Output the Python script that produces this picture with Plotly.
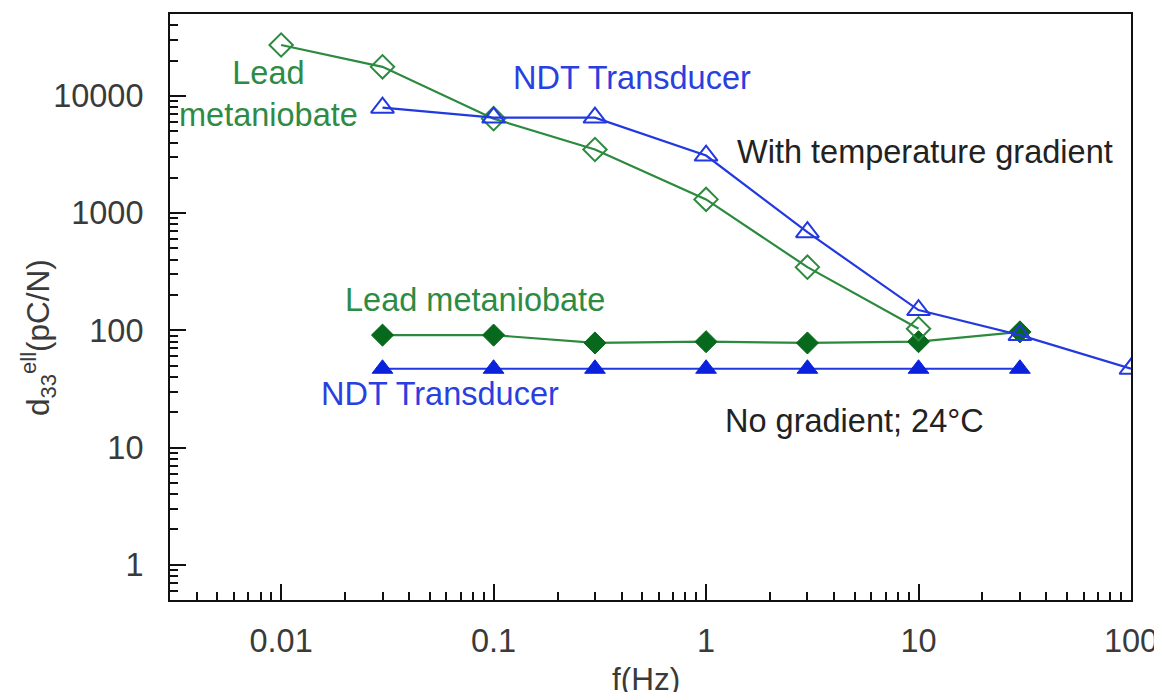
import plotly.graph_objects as go

# ---- data ----
freq_pm_grad = [0.01, 0.03, 0.1, 0.3, 1, 3, 10]
d33_pm_grad = [27200, 17700, 6400, 3490, 1310, 346, 103]

freq_ndt_grad = [0.03, 0.1, 0.3, 1, 3, 10, 30, 100]
d33_ndt_grad = [7940, 6530, 6530, 3100, 687, 149, 91, 47]

freq_nograd = [0.03, 0.1, 0.3, 1, 3, 10, 30]
d33_pm_nograd = [91, 91, 78, 80, 78, 80, 97]
d33_ndt_nograd = [47, 47, 47, 47, 47, 47, 47]

x_tickvals = [0.01, 0.1, 1, 10, 100]
x_ticktext = ["0.01", "0.1", "1", "10", "100"]
y_tickvals = [1, 10, 100, 1000, 10000]
y_ticktext = ["1", "10", "100", "1000", "10000"]

# ---- styling ----
FONT = "Liberation Sans, Arial, Helvetica, sans-serif"
FS = 32.5
GREEN = "#2b8a3e"
GREEN_TXT = "#2e8b44"
DKGREEN = "#06691c"
BLUE = "#2238e0"
BLUE_TXT = "#2a3fe0"
DKBLUE = "#0a22dd"

# the page body keeps its default 8px margin; size the figure so the page
# is 1162x700 and the plot area lands at screen 170..1132, 12..600
OFF = 8
W, H = 1162 - OFF, 700 - 2 * OFF
ML, MR, MT = 170 - OFF, 30, 12 - OFF
MB = H - (600 - OFF)
PW, PH = W - ML - MR, H - MT - MB


def px(x):
    # screen pixel -> paper fraction
    return (x - OFF - ML) / PW


def py(y):
    return (H - MB - (y - OFF)) / PH


fig = go.Figure()

fig.add_trace(go.Scatter(
    x=freq_nograd, y=d33_pm_nograd, mode="lines+markers",
    line=dict(color=GREEN, width=2.2),
    marker=dict(symbol="diamond", size=17, color=DKGREEN,
                line=dict(color=DKGREEN, width=1)),
    showlegend=False))
fig.add_trace(go.Scatter(
    x=freq_nograd, y=d33_ndt_nograd, mode="lines+markers",
    line=dict(color=BLUE, width=2.2),
    marker=dict(symbol="triangle-up", size=18, color=DKBLUE,
                line=dict(color=DKBLUE, width=1)),
    showlegend=False))
fig.add_trace(go.Scatter(
    x=freq_pm_grad, y=d33_pm_grad, mode="lines+markers",
    line=dict(color=GREEN, width=2.2),
    marker=dict(symbol="diamond-open", size=18, color=GREEN,
                line=dict(color=GREEN, width=2)),
    showlegend=False))
fig.add_trace(go.Scatter(
    x=freq_ndt_grad, y=d33_ndt_grad, mode="lines+markers",
    line=dict(color=BLUE, width=2.2),
    marker=dict(symbol="triangle-up-open", size=20, color=BLUE,
                line=dict(color=BLUE, width=2)),
    showlegend=False))

axis_common = dict(
    type="log", showgrid=False, zeroline=False,
    showline=True, linecolor="#111", linewidth=2, mirror=True,
    ticks="inside", ticklen=16, tickwidth=2, tickcolor="#111",
    tickfont=dict(family=FONT, size=FS, color="#3a3a3a"),
    tickmode="array",
    minor=dict(ticks="inside", ticklen=8, tickwidth=2, tickcolor="#111",
               dtick="D1", showgrid=False),
)

fig.update_xaxes(**axis_common, range=[-2.523, 2.0],
                 tickvals=x_tickvals, ticktext=x_ticktext,
                 ticklabelstandoff=11)
fig.update_yaxes(**axis_common, range=[-0.301, 4.699],
                 tickvals=y_tickvals, ticktext=y_ticktext,
                 ticklabelstandoff=18)

ann = [
    dict(text="Lead<br>metaniobate", x=px(269), y=py(92), color=GREEN_TXT),
    dict(text="NDT Transducer", x=px(632), y=py(76), color=BLUE_TXT),
    dict(text="With temperature gradient", x=px(926), y=py(150), color="#222"),
    dict(text="Lead metaniobate", x=px(475), y=py(299), color=GREEN_TXT),
    dict(text="NDT Transducer", x=px(440), y=py(393), color=BLUE_TXT),
    dict(text="No gradient; 24°C", x=px(855), y=py(420), color="#222"),
]
for a in ann:
    fig.add_annotation(text=a["text"], x=a["x"], y=a["y"], xref="paper", yref="paper",
                       xanchor="center", yanchor="middle", showarrow=False,
                       font=dict(family=FONT, size=FS, color=a["color"]))

# axis titles
fig.add_annotation(text="f(Hz)", x=px(646), y=py(679), xref="paper", yref="paper",
                   xanchor="center", yanchor="middle", showarrow=False,
                   font=dict(family=FONT, size=FS - 1, color="#3a3a3a"))
fig.add_annotation(text="d<sub>33</sub><sup>ell</sup>(pC/N)", x=px(39), y=py(337),
                   xref="paper", yref="paper", textangle=-90,
                   xanchor="center", yanchor="middle", showarrow=False,
                   font=dict(family=FONT, size=FS - 1, color="#3a3a3a"))

fig.update_layout(
    width=W, height=H, autosize=False,
    margin=dict(l=ML, r=MR, t=MT, b=MB),
    paper_bgcolor="white", plot_bgcolor="white",
    showlegend=False,
)

fig.write_html("out.html", config={"displayModeBar": False})
